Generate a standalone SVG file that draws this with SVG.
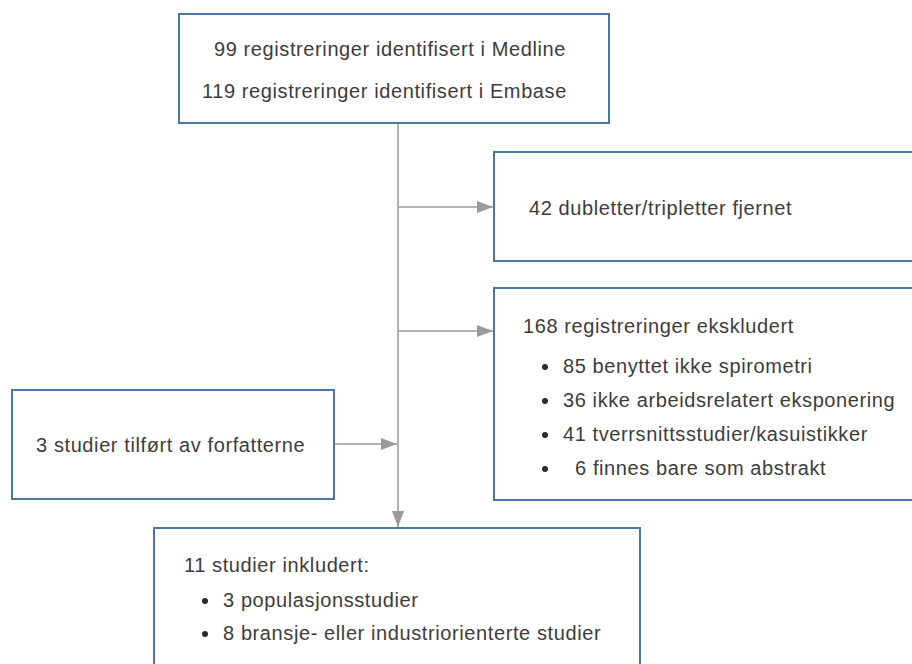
<svg xmlns="http://www.w3.org/2000/svg" width="912" height="664" viewBox="0 0 912 664">
<defs>
<style>
.box{fill:#fff;stroke:#4a77a8;stroke-width:2}
.t{font-family:"Liberation Sans",Arial,sans-serif;font-size:20px;letter-spacing:0.6px;fill:#3c3c3c}
.c{stroke:#9a9a9c;stroke-width:1.5;fill:none}
.b{fill:#2a2a2a}
</style>
<marker id="ah" viewBox="0 0 16 12" refX="16" refY="6" markerWidth="16" markerHeight="12" markerUnits="userSpaceOnUse" orient="auto">
<path d="M0,0 L16,6 L0,12 Z" fill="#9a9a9c"/>
</marker>
</defs>
<rect width="912" height="664" fill="#fff"/>
<g id="connectors">
<line class="c" x1="398" y1="123" x2="398" y2="527" marker-end="url(#ah)"/>
<line class="c" x1="398" y1="207" x2="493" y2="207" marker-end="url(#ah)"/>
<line class="c" x1="398" y1="331" x2="493" y2="331" marker-end="url(#ah)"/>
<line class="c" x1="334" y1="444" x2="397" y2="444" marker-end="url(#ah)"/>
</g>
<g id="sources">
<rect class="box" x="179" y="14" width="430" height="109"/>
<text class="t" x="214" y="56">99 registreringer identifisert i Medline</text>
<text class="t" x="202" y="98">119 registreringer identifisert i Embase</text>
</g>
<g id="duplicates">
<rect class="box" x="494" y="152" width="420" height="109"/>
<text class="t" x="529" y="215">42 dubletter/tripletter fjernet</text>
</g>
<g id="excluded">
<rect class="box" x="494" y="288" width="420" height="212"/>
<text class="t" x="523" y="333">168 registreringer ekskludert</text>
<circle class="b" cx="545" cy="367" r="3"/>
<text class="t" x="563" y="373">85 benyttet ikke spirometri</text>
<circle class="b" cx="545" cy="401" r="3"/>
<text class="t" x="563" y="407">36 ikke arbeidsrelatert eksponering</text>
<circle class="b" cx="545" cy="435" r="3"/>
<text class="t" x="563" y="441">41 tverrsnittsstudier/kasuistikker</text>
<circle class="b" cx="545" cy="469" r="3"/>
<text class="t" x="575" y="475">6 finnes bare som abstrakt</text>
</g>
<g id="added">
<rect class="box" x="12" y="390" width="322" height="109"/>
<text class="t" x="36" y="452">3 studier tilført av forfatterne</text>
</g>
<g id="included">
<rect class="box" x="154" y="528" width="486" height="140"/>
<text class="t" x="184" y="572">11 studier inkludert:</text>
<circle class="b" cx="205" cy="601" r="3"/>
<text class="t" x="223" y="607">3 populasjonsstudier</text>
<circle class="b" cx="205" cy="634" r="3"/>
<text class="t" x="223" y="640">8 bransje- eller industriorienterte studier</text>
</g>
</svg>
